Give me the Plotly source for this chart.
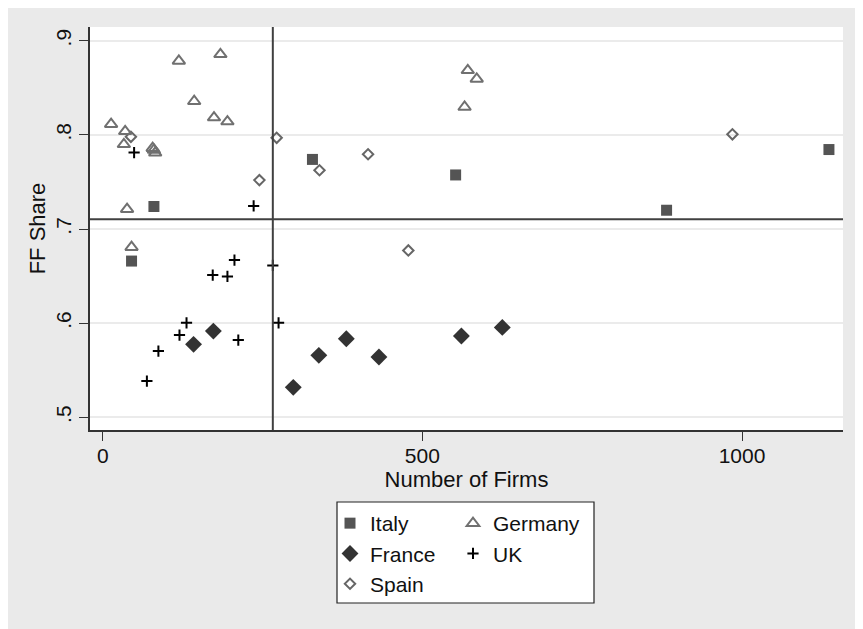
import plotly.graph_objects as go

# ---- data ----
italy_x = [80, 45, 328, 552, 882, 1136]
italy_y = [0.724, 0.666, 0.774, 0.7575, 0.720, 0.7845]

france_x = [142, 173, 298, 338, 381, 432, 561, 625]
france_y = [0.5775, 0.5916, 0.5318, 0.5658, 0.5834, 0.564, 0.5863, 0.5955]

spain_x = [44, 245, 272, 339, 415, 478, 985]
spain_y = [0.798, 0.752, 0.797, 0.7625, 0.7795, 0.6773, 0.8007]

germany_x = [13, 35, 33, 78, 80, 82, 119, 184, 143, 174, 195, 38, 45, 571, 585, 566]
germany_y = [0.8114, 0.8039, 0.790, 0.786, 0.784, 0.781, 0.8786, 0.8857, 0.8358,
             0.8185, 0.8142, 0.7211, 0.6808, 0.8687, 0.8595, 0.8297]

uk_x = [49, 236, 206, 172, 195, 266, 275, 131, 120, 212, 87, 69]
uk_y = [0.7813, 0.7246, 0.667, 0.6511, 0.6497, 0.6614, 0.6004, 0.6004, 0.5874,
        0.582, 0.5704, 0.5385]

ref_x = 266      # vertical reference line (number of firms)
ref_y = 0.7105   # horizontal reference line (FF share)

y_ticks = [0.5, 0.6, 0.7, 0.8, 0.9]
y_ticktext = [".5", ".6", ".7", ".8", ".9"]
x_ticks = [0, 500, 1000]
x_ticktext = ["0", "500", "1000"]

FONT = "Liberation Sans, Arial, sans-serif"

fig = go.Figure()

fig.add_trace(go.Scatter(
    x=italy_x, y=italy_y, mode="markers", name="Italy", legend="legend",
    marker=dict(symbol="square", size=11, color="#545454",
                line=dict(width=0))))
fig.add_trace(go.Scatter(
    x=france_x, y=france_y, mode="markers", name="France", legend="legend",
    marker=dict(symbol="diamond", size=13, color="#333333",
                line=dict(width=0))))
fig.add_trace(go.Scatter(
    x=spain_x, y=spain_y, mode="markers", name="Spain", legend="legend",
    marker=dict(symbol="diamond-open", size=8, color="#666666",
                line=dict(width=2, color="#666666"))))
fig.add_trace(go.Scatter(
    x=germany_x, y=germany_y, mode="markers", name="Germany", legend="legend2",
    marker=dict(symbol="triangle-up-open", size=11, color="#707070",
                line=dict(width=2, color="#707070"))))
fig.add_trace(go.Scatter(
    x=uk_x, y=uk_y, mode="markers", name="UK", legend="legend2",
    marker=dict(symbol="cross-thin", size=8, color="#000000",
                line=dict(width=2, color="#000000"))))

# page has an 8px body offset; target pixel coordinates are in screen space
OFF = 8
SW, SH = 863, 629
W, H = SW - OFF, SH - OFF
PL, PR, PT, PB = 90, 843, 27, 430          # plot area on screen
L, T = PL - OFF, PT - OFF
R, B = SW - PR, SH - PB
pw, ph = PR - PL, PB - PT

def px_x(p):
    return (p - PL) / pw

def px_y(p):
    return (PB - p) / ph

shapes = [
    # reference lines
    dict(type="line", xref="x", yref="paper", x0=ref_x, x1=ref_x, y0=0, y1=1,
         line=dict(color="#404040", width=2)),
    dict(type="line", xref="paper", yref="y", x0=0, x1=1, y0=ref_y, y1=ref_y,
         line=dict(color="#404040", width=2)),
    # legend box
    dict(type="rect", xref="paper", yref="paper",
         x0=px_x(337), x1=px_x(594), y0=px_y(603), y1=px_y(502),
         fillcolor="white", line=dict(color="#222222", width=1.2), layer="below"),
]

leg_font = dict(size=21, family=FONT, color="#111111")

fig.update_layout(
    width=W, height=H,
    margin=dict(l=L, r=R, t=T, b=B, autoexpand=False),
    paper_bgcolor="#eaeaea",
    plot_bgcolor="white",
    font=dict(family=FONT, color="#111111"),
    shapes=shapes,
    showlegend=True,
    legend=dict(x=px_x(330), y=px_y(503), xanchor="left", yanchor="top",
                bgcolor="rgba(0,0,0,0)", borderwidth=0, font=leg_font,
                traceorder="normal"),
    legend2=dict(x=px_x(453), y=px_y(503), xanchor="left", yanchor="top",
                 bgcolor="rgba(0,0,0,0)", borderwidth=0, font=leg_font,
                 traceorder="normal"),
    xaxis=dict(range=[-20, 1158], tickvals=x_ticks, ticktext=x_ticktext,
               showgrid=False, zeroline=False, showline=True,
               linecolor="#333333", linewidth=1.5,
               ticks="outside", ticklen=9, tickwidth=1.2, tickcolor="#333333",
               ticklabelstandoff=-3,
               tickfont=dict(size=21, family=FONT, color="#111111"),
               title=dict(text="Number of Firms", standoff=0,
                          font=dict(size=22, family=FONT, color="#111111"))),
    yaxis=dict(range=[0.4865, 0.9147], tickvals=y_ticks, ticktext=y_ticktext,
               tickangle=-90,
               showgrid=True, gridcolor="#ebebeb", gridwidth=1.5,
               zeroline=False, showline=True,
               linecolor="#333333", linewidth=1.5,
               ticks="outside", ticklen=9, tickwidth=1.2, tickcolor="#333333",
               tickfont=dict(size=21, family=FONT, color="#111111"),
               title=dict(text="FF Share", standoff=0,
                          font=dict(size=22, family=FONT, color="#111111"))),
)

fig.write_html("out.html")
